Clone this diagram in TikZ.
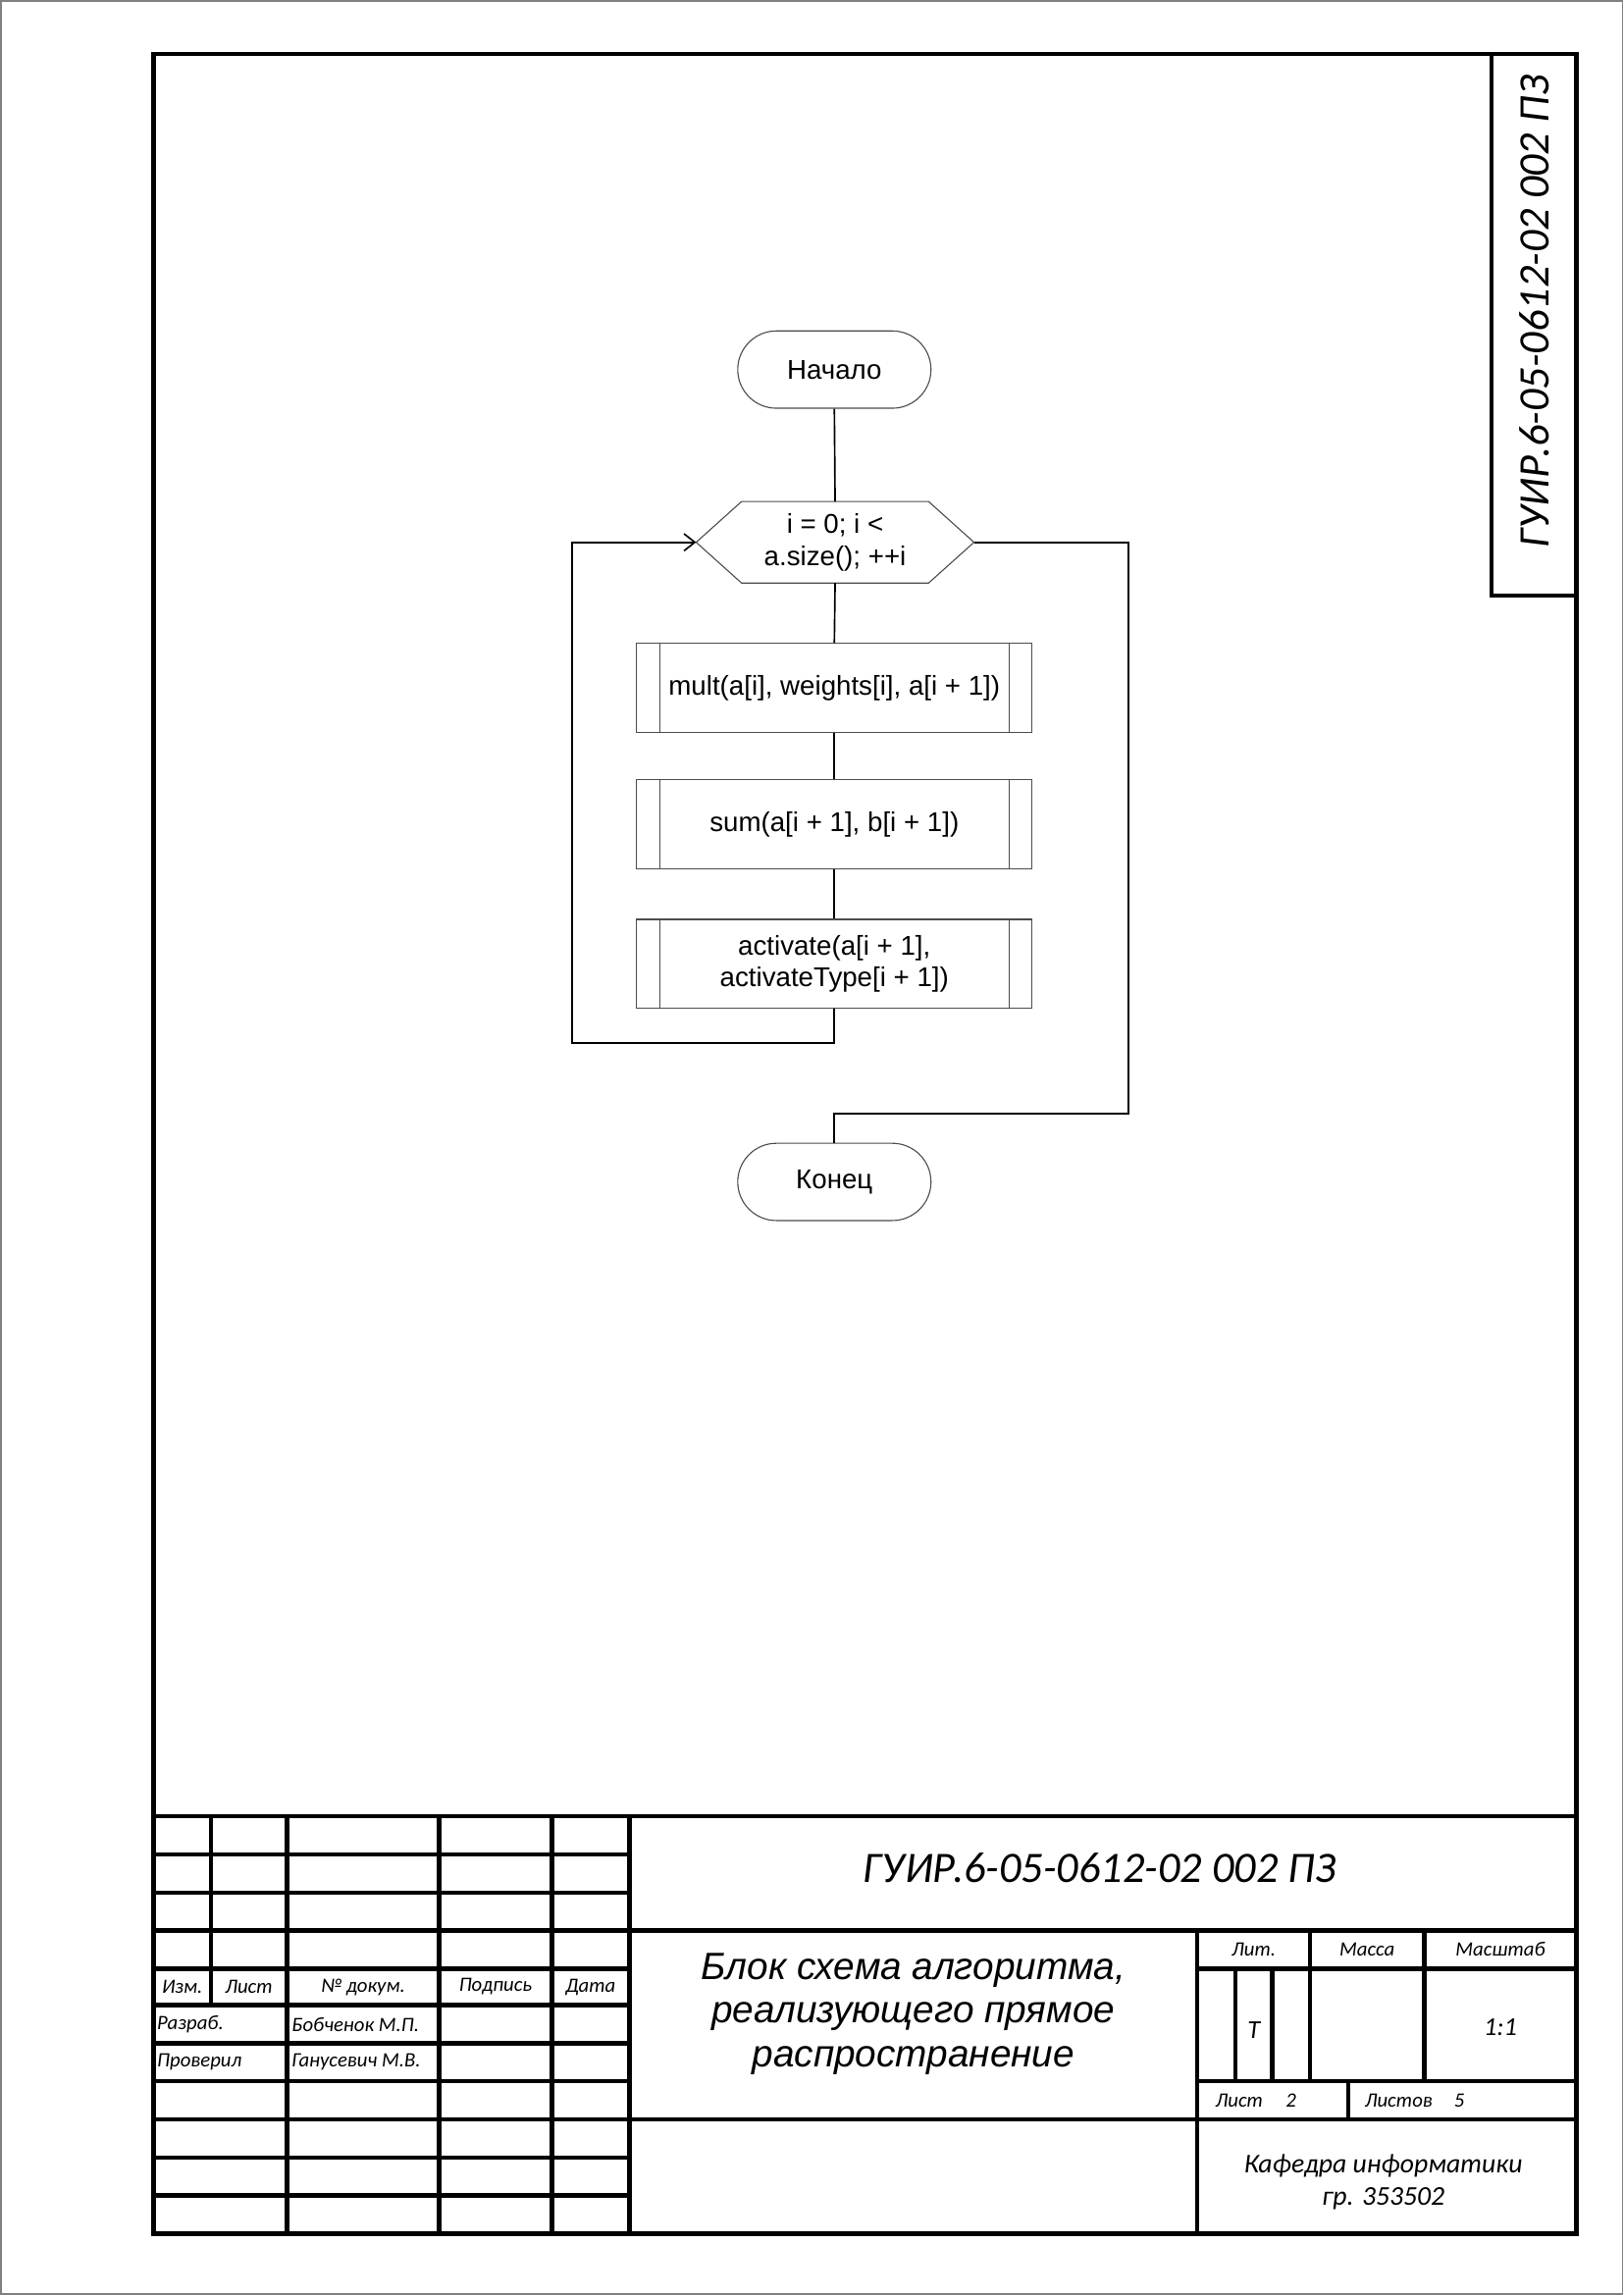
\documentclass[tikz,border=0pt]{standalone}
\usepackage{fontspec}
\setmainfont{Liberation Sans}
\newfontfamily\stampfont{Carlito}
\usetikzlibrary{calc,arrows.meta}

\tikzset{
	frameline/.style={line width=1.6pt},
	flow/.style={line width=0.6pt},
	figline/.style={draw=black!70, line width=0.4pt},
	terminal/.style={figline, rectangle, rounded corners=0.5cm, minimum width=2.5cm, minimum height=1.0cm, inner sep=0pt, font=\fontsize{10}{11.5}\selectfont},
	process/.style={figline, rectangle, minimum width=5.114cm, minimum height=1.15cm, inner sep=0pt, align=center, font=\fontsize{10}{11.8}\selectfont},
	loophead/.style={rectangle, minimum width=3.58cm, minimum height=1.04cm, inner sep=0pt, align=center, font=\fontsize{10}{11.8}\selectfont},
	stamp/.style={inner sep=0pt, font=\stampfont\itshape\fontsize{7.5}{9}\selectfont},
	bigcode/.style={inner sep=0pt, font=\stampfont\itshape\fontsize{16}{19}\selectfont},
}

\begin{document}
\begin{tikzpicture}[x=0.01894cm, y=-0.01894cm]

			\useasboundingbox (0,0) rectangle (1109,1568);
			\draw [gray, line width=0.6pt] (0.5,0.5) rectangle (1108.5,1567.5);

			\draw [frameline] (105,37) rectangle (1077,1526);
			\draw [frameline] (1019,37) -- (1019,407) -- (1077,407);
			\node[bigcode, rotate=90] (sidecode) at (1048,213) {ГУИР.6-05-0612-02 002 ПЗ};

			\node[terminal] (start) at (570,252.5) {Начало};
			\node[loophead] (loop) at (570.5,370.5) {i = 0; i <\\a.size(); ++i};
			\node[process] (mult) at (570,470) {mult(a[i], weights[i], a[i + 1])};
			\node[process] (sum) at (570,563) {sum(a[i + 1], b[i + 1])};
			\node[process] (act) at (570,658.5) {activate(a[i + 1],\\activateType[i + 1])};
			\node[terminal] (finish) at (570,807.5) {Конец};

			\draw [figline] (loop.west) -- ($(loop.north west)+(31,0)$) -- ($(loop.north east)+(-31,0)$) -- (loop.east) -- ($(loop.south east)+(-31,0)$) -- ($(loop.south west)+(31,0)$) -- cycle;

			\draw [figline] ($(mult.north west)+(16,0)$) -- ($(mult.south west)+(16,0)$);
			\draw [figline] ($(mult.north east)+(-16,0)$) -- ($(mult.south east)+(-16,0)$);
			\draw [figline] ($(sum.north west)+(16,0)$) -- ($(sum.south west)+(16,0)$);
			\draw [figline] ($(sum.north east)+(-16,0)$) -- ($(sum.south east)+(-16,0)$);
			\draw [figline] ($(act.north west)+(16,0)$) -- ($(act.south west)+(16,0)$);
			\draw [figline] ($(act.north east)+(-16,0)$) -- ($(act.south east)+(-16,0)$);

			\draw [flow] (start.south) -- (loop.north);
			\draw [flow] (loop.south) -- (mult.north);
			\draw [flow] (mult.south) -- (sum.north);
			\draw [flow] (sum.south) -- (act.north);

			\coordinate (back) at (391,712.5);
			\draw [flow, -{Straight Barb[length=1.4mm, width=2.2mm]}] (act.south) |- (back) |- (loop.west);

			\coordinate (exit) at (771,761);
			\draw [flow] (loop.east) -| (exit) -| (finish.north);

			\draw [frameline] (105,1241) -- (1077,1241);
			\draw [frameline] (105,1267) -- (430,1267);
			\draw [frameline] (105,1293) -- (430,1293);
			\draw [frameline] (105,1319) -- (1077,1319);
			\draw [frameline] (105,1345) -- (430,1345);
			\draw [frameline] (105,1370) -- (430,1370);
			\draw [frameline] (105,1396) -- (430,1396);
			\draw [frameline] (105,1422) -- (430,1422);
			\draw [frameline] (105,1448) -- (1077,1448);
			\draw [frameline] (105,1474) -- (430,1474);
			\draw [frameline] (105,1500) -- (430,1500);

			\draw [frameline] (144,1241) -- (144,1370);
			\draw [frameline] (196,1241) -- (196,1526);
			\draw [frameline] (300,1241) -- (300,1526);
			\draw [frameline] (377,1241) -- (377,1526);
			\draw [frameline] (430,1241) -- (430,1526);

			\draw [frameline] (818,1319) -- (818,1526);
			\draw [frameline] (818,1345) -- (1077,1345);
			\draw [frameline] (818,1422) -- (1077,1422);
			\draw [frameline] (844,1345) -- (844,1422);
			\draw [frameline] (869,1345) -- (869,1422);
			\draw [frameline] (895,1319) -- (895,1422);
			\draw [frameline] (973,1319) -- (973,1422);
			\draw [frameline] (921,1422) -- (921,1448);

			\node[stamp] (izm) at (124.5,1357.5) {Изм.};
			\node[stamp] (list) at (170,1357.5) {Лист};
			\node[stamp] (dokum) at (248,1357.5) {№ докум.};
			\node[stamp] (podpis) at (338.5,1357.5) {Подпись};
			\node[stamp] (data) at (403.5,1357.5) {Дата};
			\node[stamp, anchor=west] (razrab) at (107,1383) {Разраб.};
			\node[stamp, anchor=west] (razrabname) at (199,1383) {Бобченок М.П.};
			\node[stamp, anchor=west] (prov) at (107,1409) {Проверил};
			\node[stamp, anchor=west] (provname) at (199,1409) {Ганусевич М.В.};

			\node[bigcode] (code) at (751,1276) {ГУИР.6-05-0612-02 002 ПЗ};
			\node[inner sep=0pt, align=center, font=\itshape\fontsize{14}{16.2}\selectfont] (title) at (624,1376) {Блок схема алгоритма,\\реализующего прямое\\распространение};

			\node[stamp] (lit) at (856.5,1332) {Лит.};
			\node[stamp] (massa) at (934,1332) {Масса};
			\node[stamp] (masshtab) at (1025,1332) {Масштаб};
			\node[stamp, font=\stampfont\itshape\fontsize{9.5}{11}\selectfont] (litera) at (856.5,1387) {Т};
			\node[stamp, font=\stampfont\itshape\fontsize{9.5}{11}\selectfont] (scale) at (1025,1385) {1:1};
			\node[stamp, anchor=west] (sheet) at (830,1435) {Лист};
			\node[stamp] (sheetno) at (882,1435) {2};
			\node[stamp, anchor=west] (sheets) at (932,1435) {Листов};
			\node[stamp] (sheetsno) at (997,1435) {5};
			\node[stamp, align=center, font=\stampfont\itshape\fontsize{10}{11.8}\selectfont] (kafedra) at (945,1491) {Кафедра информатики\\гр. 353502};

	\end{tikzpicture}
\end{document}
